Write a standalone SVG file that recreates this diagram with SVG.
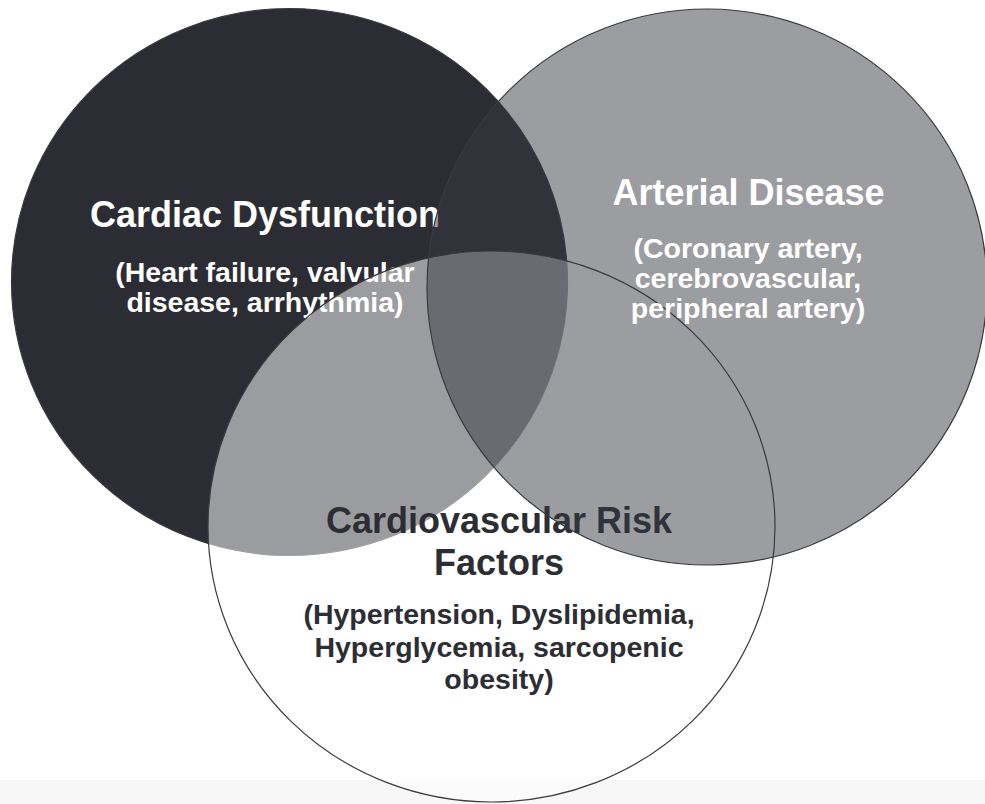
<svg xmlns="http://www.w3.org/2000/svg" width="985" height="804" viewBox="0 0 985 804">
  <style>
    .ring { stroke: #3a3a3e; stroke-width: 1.2; }
    .title { font-family: "Liberation Sans", Arial, sans-serif; font-weight: bold; font-size: 36px; text-anchor: middle; }
    .sub { font-family: "Liberation Sans", Arial, sans-serif; font-weight: bold; font-size: 28.5px; text-anchor: middle; }
    .light { fill: #ffffff; }
    .dark { fill: #2d2e34; }
  </style>
  <rect x="0" y="0" width="985" height="804" fill="#ffffff"/>
  <rect x="0" y="780" width="985" height="24" fill="#f7f7f7"/>

  <g id="cardiac-dysfunction">
    <ellipse class="ring" cx="289.5" cy="282" rx="278" ry="273.5" fill="#2c2d34"/>
    <text class="title light" x="265" y="227">Cardiac Dysfunction</text>
    <text class="sub light" x="265" y="282">(Heart failure, valvular</text>
    <text class="sub light" x="265" y="312">disease, arrhythmia)</text>
  </g>

  <g id="cardiovascular-risk-factors">
    <ellipse class="ring" cx="491.5" cy="526.5" rx="283.5" ry="275.5" fill="#ffffff" fill-opacity="0.531"/>
    <text class="title dark" x="499" y="533">Cardiovascular Risk</text>
    <text class="title dark" x="499" y="575">Factors</text>
    <text class="sub dark" x="499" y="624">(Hypertension, Dyslipidemia,</text>
    <text class="sub dark" x="499" y="657">Hyperglycemia, sarcopenic</text>
    <text class="sub dark" x="499" y="689">obesity)</text>
  </g>

  <g id="arterial-disease">
    <ellipse class="ring" cx="707" cy="287" rx="280" ry="278" fill="#363840" fill-opacity="0.493"/>
    <text class="title light" x="748.5" y="205">Arterial Disease</text>
    <text class="sub light" x="748" y="258">(Coronary artery,</text>
    <text class="sub light" x="748" y="288">cerebrovascular,</text>
    <text class="sub light" x="748" y="318">peripheral artery)</text>
  </g>

  <g id="connectors"></g>
</svg>
